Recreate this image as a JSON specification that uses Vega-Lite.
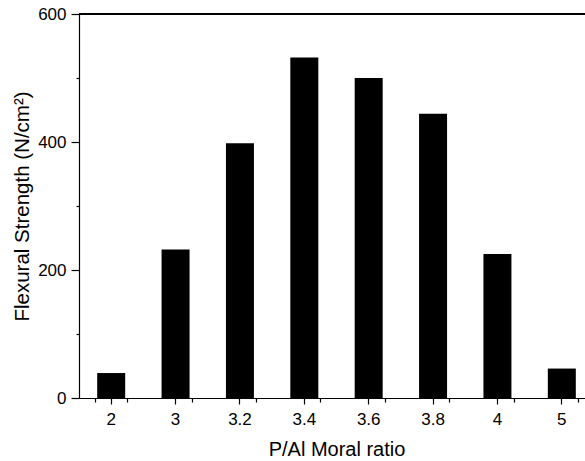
{
  "$schema": "https://vega.github.io/schema/vega-lite/v6.json",
  "autosize": {"type": "none"},
  "padding": {"left": 79, "top": 14, "right": 0, "bottom": 63},
  "width": 506,
  "height": 384,
  "background": "white",
  "config": {
    "view": {"stroke": null},
    "font": "Liberation Sans",
    "axis": {"grid": false, "domainColor": "black", "tickColor": "black", "labelColor": "black", "titleColor": "black", "domainWidth": 1.2, "tickWidth": 1.2, "labelFont": "Liberation Sans", "titleFont": "Liberation Sans", "labelFontSize": 17, "titleFontSize": 20, "titleFontWeight": "normal"}
  },
  "data": {"values": [
    {"ratio": "2", "strength": 39},
    {"ratio": "3", "strength": 232},
    {"ratio": "3.2", "strength": 398},
    {"ratio": "3.4", "strength": 532},
    {"ratio": "3.6", "strength": 500},
    {"ratio": "3.8", "strength": 444},
    {"ratio": "4", "strength": 225},
    {"ratio": "5", "strength": 46}
  ]},
  "layer": [
    {
      "mark": {"type": "bar", "color": "black", "size": 28},
      "encoding": {
        "x": {"field": "ratio", "type": "nominal", "sort": null,
          "scale": {"range": [0, 515], "paddingInner": 0.5, "paddingOuter": 0.25},
          "axis": {"title": "P/Al Moral ratio", "labelAngle": 0, "labelFontSize": 17, "tickSize": 6, "labelPadding": 7, "titlePadding": 12}},
        "y": {"field": "strength", "type": "quantitative",
          "scale": {"domain": [0, 600], "nice": false},
          "axis": {"title": "Flexural Strength (N/cm²)", "titleFontSize": 20.5, "values": [0, 100, 200, 300, 400, 500, 600],
            "labelFontSize": 17,
            "labelExpr": "datum.value % 200 == 0 ? datum.label : ''",
            "tickSize": {"condition": {"test": "datum.value % 200 == 0", "value": 8}, "value": 3},
            "labelPadding": 5, "titlePadding": 5}}
      }
    },
    {
      "mark": {"type": "bar", "opacity": 0},
      "encoding": {
        "x": {"field": "ratio", "type": "nominal", "sort": null,
          "axis": {"title": null, "labels": false, "domain": false, "tickSize": 4, "tickBand": "extent", "orient": "bottom"}},
        "y": {"field": "strength", "type": "quantitative", "axis": null}
      }
    },
    {
      "mark": {"type": "rule", "color": "black", "strokeWidth": 1.2},
      "encoding": {"y": {"datum": 600, "type": "quantitative", "axis": null}}
    }
  ],
  "resolve": {"axis": {"x": "independent", "y": "independent"}}
}
